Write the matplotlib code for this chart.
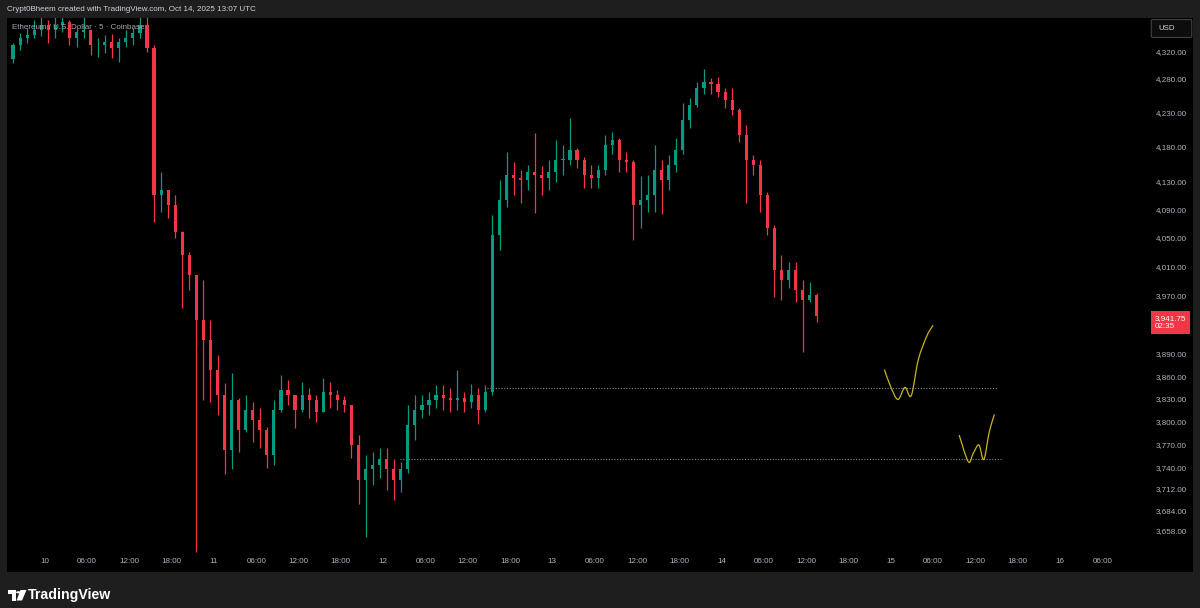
import numpy as np
import matplotlib.pyplot as plt
import matplotlib.transforms as mtransforms
from matplotlib.path import Path
from matplotlib.patches import PathPatch, Rectangle, Circle, Polygon, FancyBboxPatch
from matplotlib.ticker import NullLocator, NullFormatter

plt.rcParams['font.family'] = ['Liberation Sans', 'DejaVu Sans']

W, H = 1200, 608

# ETH/USD, hourly candles; hours counted from Oct 10 00:00 UTC
hours = list(range(-5, 110))
first_open = 4310
highs = [4333, 4348, 4356, 4368, 4376, 4368, 4373, 4377, 4368, 4356,
         4374, 4353, 4341, 4346, 4347, 4341, 4353, 4356, 4377, 4373,
         4330, 4144, 4118, 4111, 4060, 4030, 3998, 3991, 3936, 3889,
         3851, 3864, 3831, 3835, 3826, 3818, 3792, 3828, 3862, 3855,
         3835, 3852, 3844, 3835, 3858, 3852, 3842, 3834, 3822, 3782,
         3756, 3760, 3765, 3765, 3750, 3747, 3822, 3835, 3835, 3839,
         3848, 3848, 3844, 3868, 3839, 3850, 3844, 3848, 4082, 4132,
         4173, 4158, 4147, 4154, 4200, 4153, 4161, 4190, 4183, 4222,
         4178, 4165, 4154, 4154, 4197, 4202, 4193, 4173, 4161, 4138,
         4139, 4183, 4161, 4168, 4193, 4244, 4252, 4275, 4295, 4281,
         4283, 4266, 4266, 4237, 4212, 4168, 4161, 4115, 4068, 4026,
         4016, 4016, 3991, 3988, 3973]
lows = [4303, 4323, 4333, 4341, 4344, 4333, 4341, 4350, 4330, 4328,
        4341, 4315, 4312, 4318, 4311, 4305, 4328, 4330, 4341, 4320,
        4072, 4087, 4078, 4050, 3953, 3978, 3632, 3828, 3826, 3809,
        3731, 3737, 3760, 3786, 3773, 3765, 3739, 3743, 3812, 3822,
        3791, 3813, 3805, 3799, 3813, 3818, 3815, 3813, 3752, 3692,
        3650, 3717, 3726, 3711, 3698, 3708, 3733, 3776, 3805, 3809,
        3818, 3815, 3813, 3815, 3813, 3818, 3797, 3813, 3835, 4033,
        4094, 4111, 4100, 4118, 4085, 4111, 4118, 4129, 4139, 4154,
        4150, 4121, 4121, 4121, 4140, 4169, 4144, 4144, 4047, 4064,
        4087, 4087, 4084, 4118, 4144, 4170, 4208, 4238, 4257, 4257,
        4253, 4237, 4227, 4187, 4099, 4139, 4087, 4054, 3967, 3964,
        3980, 3961, 3893, 3961, 3934]
closes = [4330, 4341, 4346, 4353, 4361, 4353, 4361, 4365, 4341, 4350,
          4353, 4330, 4330, 4335, 4326, 4335, 4341, 4348, 4361, 4326,
          4111, 4118, 4097, 4058, 4026, 3998, 3936, 3909, 3869, 3835,
          3763, 3828, 3789, 3815, 3802, 3789, 3756, 3815, 3842, 3835,
          3815, 3835, 3828, 3813, 3839, 3835, 3828, 3822, 3769, 3724,
          3737, 3743, 3750, 3737, 3724, 3737, 3795, 3815, 3822, 3828,
          3835, 3831, 3828, 3831, 3826, 3835, 3815, 3839, 4054, 4104,
          4139, 4135, 4132, 4144, 4139, 4135, 4144, 4161, 4161, 4176,
          4161, 4139, 4135, 4147, 4183, 4190, 4161, 4158, 4097, 4104,
          4111, 4147, 4132, 4154, 4176, 4219, 4241, 4266, 4275, 4272,
          4260, 4249, 4234, 4197, 4161, 4154, 4111, 4064, 4005, 3991,
          4005, 3978, 3964, 3971, 3941.75]

# dotted levels: (start hour, end hour, price)
levels = [(62.7, 135.2, 3844), (50.4, 135.6, 3751)]

# hand drawn projections (hour, price)
sketch1_x = [119.1, 119.9, 121.0, 122.0, 122.9, 123.9, 125.1, 126.0]
sketch1_y = [3869, 3848, 3829, 3845, 3834, 3882, 3914, 3929]
sketch2_x = [129.7, 131.0, 131.7, 132.5, 133.2, 133.97, 134.7]
sketch2_y = [3782, 3747, 3758, 3769, 3750, 3786, 3809]

price_ticks = [4320, 4280, 4230, 4180, 4130, 4090, 4050, 4010, 3970,
               3890, 3860, 3830, 3800, 3770, 3740, 3712, 3684, 3658]
time_ticks = list(range(0, 151, 6))
day_names = ['10', '11', '12', '13', '14', '15', '16']

up_col = '#089981'
dn_col = '#f23645'
frame_col = '#1e1e1e'
label_col = '#b2b5be'


def px(x, y):
    return x / W, 1 - y / H


def smooth_path(xs, ys):
    pts = np.column_stack([xs, ys]).astype(float)
    ext = np.vstack([pts[0], pts, pts[-1]])
    verts = [pts[0]]
    codes = [Path.MOVETO]
    for i in range(1, len(ext) - 2):
        p0, p1, p2, p3 = ext[i - 1], ext[i], ext[i + 1], ext[i + 2]
        verts += [p1 + (p2 - p0) / 6, p2 - (p3 - p1) / 6, p2]
        codes += [Path.CURVE4] * 3
    return Path(verts, codes)


fig = plt.figure(figsize=(W / 100, H / 100), dpi=100, facecolor=frame_col)
ax = fig.add_axes([7 / W, 1 - 572 / H, 1186 / W, 554 / H])
ax.set_facecolor('black')
ax.set_yscale('log')
ax.set_xlim(-5.36, 162.87)
ax.set_ylim(3606.3, 4371.3)
for s in ax.spines.values():
    s.set_visible(False)

opens = [first_open] + closes[:-1]
xs = np.array(hours) + 0.5
o = np.array(opens, dtype=float)
c = np.array(closes, dtype=float)
cols = [up_col if cc >= oo else dn_col for oo, cc in zip(o, c)]
ax.vlines(xs, lows, highs, colors=cols, linewidth=0.9, zorder=2)
ax.bar(xs, np.maximum(np.abs(c - o), 0.8), bottom=np.minimum(o, c), width=0.45,
       color=cols, linewidth=0, zorder=3)

for x0, x1, lvl in levels:
    ax.plot([x0, x1], [lvl, lvl], color='#8a8a8a', lw=0.8, ls=(0, (1, 1.5)), zorder=1)

for sx, sy in [(sketch1_x, sketch1_y), (sketch2_x, sketch2_y)]:
    ax.add_patch(PathPatch(smooth_path(sx, sy), fill=False, edgecolor='#c8b41e',
                           lw=0.9, zorder=4))

# axes ticks
ax.set_yticks(price_ticks)
ax.set_yticklabels([f'{p:,.2f}' for p in price_ticks])
ax.yaxis.set_minor_locator(NullLocator())
ax.yaxis.set_minor_formatter(NullFormatter())
ax.yaxis.tick_right()
ax.tick_params(axis='y', length=0, pad=-4.3, labelsize=5.8, labelcolor=label_col)
for lbl in ax.get_yticklabels():
    lbl.set_ha('right')

ax.set_xticks(time_ticks)
ax.set_xticklabels([day_names[t // 24] if t % 24 == 0 else f'{t % 24:02d}:00' for t in time_ticks])
ax.tick_params(axis='x', length=0, pad=-7.9, labelsize=5.8, labelcolor=label_col)
for lbl in ax.get_xticklabels():
    lbl.set_va('center')

# last price tag
tag_tr = mtransforms.blended_transform_factory(ax.transAxes, ax.transData)
ax.annotate(f'{closes[-1]:,.2f}\n02:35', xy=((1155 - 7) / 1186, closes[-1]), xycoords=tag_tr,
            xytext=(0, 1), textcoords='offset pixels', ha='left', va='top',
            fontsize=5.8, color='white', linespacing=1.3,
            bbox=dict(boxstyle='square,pad=0.45', fc=dn_col, ec='none'), zorder=6)

# symbol legend
ax.text(5 / 1186, 1 - (27.5 - 18) / 554, 'Ethereum / U.S. Dollar · 5 · Coinbase',
        transform=ax.transAxes, fontsize=5.8, color='#a3a6af', va='center', ha='left', zorder=7)

# currency box
fig.patches.append(FancyBboxPatch(px(1153, 36.5), 37 / W, 16 / H, boxstyle='round,pad=0.0015',
                                  transform=fig.transFigure, fc='#0d0d0d', ec='#4a4a4a', lw=0.7))
fig.text(*px(1158, 28.5), 'USD', fontsize=5.6, color='#d1d4dc', va='center', ha='left')

# header
fig.text(*px(7, 9.5), 'Crypt0Bheem created with TradingView.com, Oct 14, 2025 13:07 UTC',
         fontsize=5.8, color='#d1d4dc', va='center', ha='left')

# TradingView logo
logo = [Rectangle(px(8, 590 + 4.2), 7.5 / W, 4.2 / H),
        Rectangle(px(12, 600.5), 3.5 / W, 10.5 / H),
        Circle(px(18.3, 592.3), 2.2 / W),
        Polygon([px(20.5, 590), px(26.5, 590), px(22, 600.5), px(16.5, 600.5)])]
for p in logo:
    p.set_transform(fig.transFigure)
    p.set_facecolor('white')
    p.set_edgecolor('none')
    fig.patches.append(p)
fig.text(*px(28, 595), 'TradingView', fontsize=10.2, color='white', va='center', ha='left',
         fontweight='bold')

fig.savefig('out.png', dpi=100, facecolor=frame_col)
